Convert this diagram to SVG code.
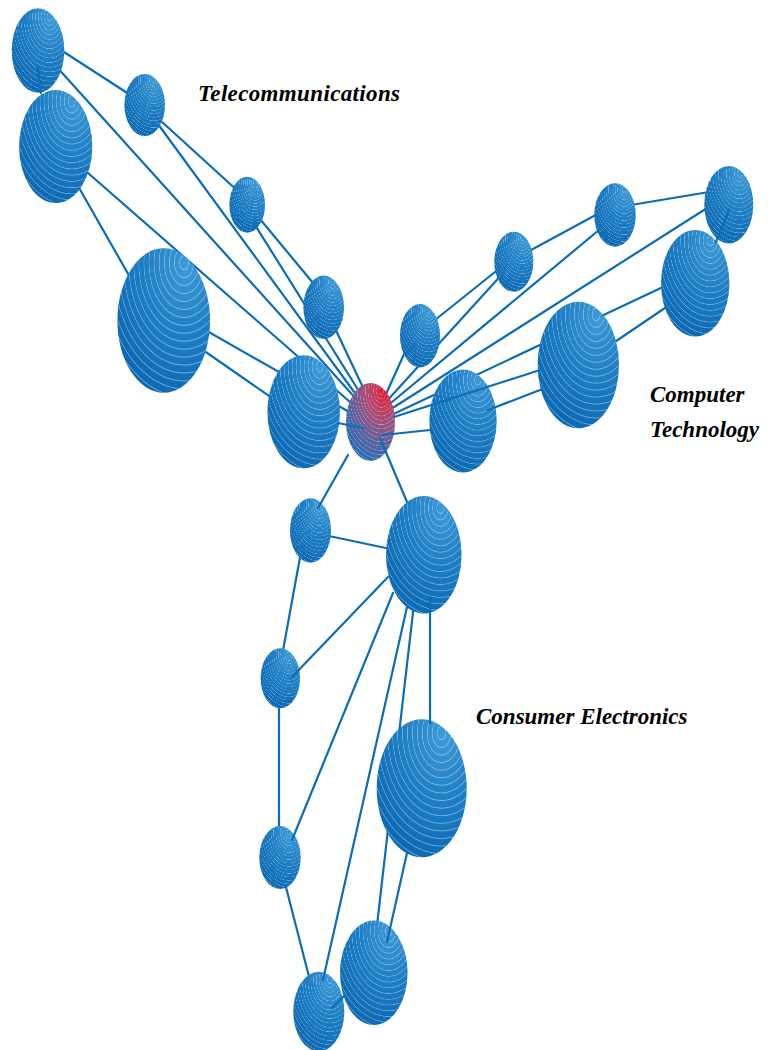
<svg xmlns="http://www.w3.org/2000/svg" width="773" height="1050" viewBox="0 0 773 1050">
<defs>
<radialGradient id="sph" cx="0.72" cy="0.18" r="0.95" fx="0.74" fy="0.12">
<stop offset="0" stop-color="#3f9bd6"/>
<stop offset="0.45" stop-color="#1f7fc5"/>
<stop offset="1" stop-color="#0865b0"/>
</radialGradient>
<radialGradient id="red" cx="0.8" cy="0.08" r="1.0" fx="0.8" fy="0.08">
<stop offset="0" stop-color="#e8162a"/>
<stop offset="0.16" stop-color="#cf3250"/>
<stop offset="0.42" stop-color="#a4507a"/>
<stop offset="0.7" stop-color="#5e629e"/>
<stop offset="1" stop-color="#2a6cb6"/>
</radialGradient>
<radialGradient id="rings" cx="0.72" cy="0.1" r="0.055" spreadMethod="repeat">
<stop offset="0" stop-color="#ffffff" stop-opacity="0"/>
<stop offset="0.75" stop-color="#ffffff" stop-opacity="0"/>
<stop offset="0.88" stop-color="#ffffff" stop-opacity="0.4"/>
<stop offset="1" stop-color="#ffffff" stop-opacity="0"/>
</radialGradient>
</defs>
<style>
.e line{stroke:#0b6cb8;stroke-width:2.2;stroke-linecap:round}
.s{fill:url(#sph)}
.c{fill:url(#red)}
.r{fill:url(#rings)}
.t{font-family:"Liberation Serif","Times New Roman",serif;font-weight:bold;font-style:italic;font-size:23px;fill:#000}
</style>
<g id="connectors-back" class="e">
<line x1="50" y1="43" x2="135" y2="98"/>
<line x1="55" y1="65" x2="358" y2="401"/>
<line x1="150" y1="111" x2="240" y2="193"/>
<line x1="155" y1="120" x2="360" y2="400"/>
<line x1="70" y1="172" x2="135" y2="286"/>
<line x1="80" y1="166" x2="358" y2="409"/>
<line x1="255" y1="213" x2="318" y2="289"/>
<line x1="250" y1="217" x2="362" y2="396"/>
<line x1="200" y1="348" x2="285" y2="407"/>
<line x1="200" y1="327" x2="358" y2="417"/>
<line x1="333" y1="324" x2="367" y2="396"/>
<line x1="381" y1="405" x2="415" y2="330"/>
<line x1="425" y1="328" x2="505" y2="264"/>
<line x1="375" y1="414" x2="505" y2="271"/>
<line x1="520" y1="256" x2="605" y2="210"/>
<line x1="380" y1="412" x2="605" y2="225"/>
<line x1="625" y1="206" x2="715" y2="191"/>
<line x1="380" y1="416" x2="715" y2="203"/>
<line x1="385" y1="418" x2="680" y2="279"/>
<line x1="600" y1="352" x2="690" y2="291"/>
<line x1="310" y1="532" x2="400" y2="551"/>
<line x1="305" y1="530" x2="278" y2="678"/>
<line x1="279" y1="690" x2="279" y2="840"/>
<line x1="415" y1="595" x2="373" y2="960"/>
<line x1="279" y1="860" x2="315" y2="1000"/>
</g>
<g id="n1"><ellipse class="s" cx="38" cy="50.5" rx="26.3" ry="42.2"/><ellipse class="r" cx="38" cy="50.5" rx="26.3" ry="42.2"/></g>
<g id="n2"><ellipse class="s" cx="144.7" cy="105" rx="20.3" ry="31"/><ellipse class="r" cx="144.7" cy="105" rx="20.3" ry="31"/></g>
<g id="n3"><ellipse class="s" cx="55.7" cy="146.5" rx="36.6" ry="56.5"/><ellipse class="r" cx="55.7" cy="146.5" rx="36.6" ry="56.5"/></g>
<g id="n4"><ellipse class="s" cx="247.2" cy="204.7" rx="17.8" ry="28"/><ellipse class="r" cx="247.2" cy="204.7" rx="17.8" ry="28"/></g>
<g id="n5"><ellipse class="s" cx="163.7" cy="320.5" rx="46.3" ry="72.2"/><ellipse class="r" cx="163.7" cy="320.5" rx="46.3" ry="72.2"/></g>
<g id="n6"><ellipse class="s" cx="323.7" cy="307.3" rx="20.3" ry="31.7"/><ellipse class="r" cx="323.7" cy="307.3" rx="20.3" ry="31.7"/></g>
<g id="n7"><ellipse class="s" cx="303.7" cy="411.8" rx="36.3" ry="56.5"/><ellipse class="r" cx="303.7" cy="411.8" rx="36.3" ry="56.5"/></g>
<g id="n9"><ellipse class="s" cx="420" cy="335.7" rx="20" ry="31.7"/><ellipse class="r" cx="420" cy="335.7" rx="20" ry="31.7"/></g>
<g id="n10"><ellipse class="s" cx="513.8" cy="261.7" rx="19.5" ry="30"/><ellipse class="r" cx="513.8" cy="261.7" rx="19.5" ry="30"/></g>
<g id="n11"><ellipse class="s" cx="615" cy="215" rx="20.7" ry="31.7"/><ellipse class="r" cx="615" cy="215" rx="20.7" ry="31.7"/></g>
<g id="n12"><ellipse class="s" cx="728.8" cy="204.7" rx="24.5" ry="38.7"/><ellipse class="r" cx="728.8" cy="204.7" rx="24.5" ry="38.7"/></g>
<g id="n13"><ellipse class="s" cx="695.2" cy="283.3" rx="34.2" ry="53.3"/><ellipse class="r" cx="695.2" cy="283.3" rx="34.2" ry="53.3"/></g>
<g id="n14"><ellipse class="s" cx="578.3" cy="365" rx="40.7" ry="63.3"/><ellipse class="r" cx="578.3" cy="365" rx="40.7" ry="63.3"/></g>
<g id="n15"><ellipse class="s" cx="463" cy="421" rx="33.7" ry="51.5"/><ellipse class="r" cx="463" cy="421" rx="33.7" ry="51.5"/></g>
<g id="n16"><ellipse class="s" cx="310.5" cy="530.5" rx="20.5" ry="32.2"/><ellipse class="r" cx="310.5" cy="530.5" rx="20.5" ry="32.2"/></g>
<g id="n17"><ellipse class="s" cx="423.8" cy="554.7" rx="37.8" ry="58.7"/><ellipse class="r" cx="423.8" cy="554.7" rx="37.8" ry="58.7"/></g>
<g id="n18"><ellipse class="s" cx="280.3" cy="678.3" rx="19.7" ry="30"/><ellipse class="r" cx="280.3" cy="678.3" rx="19.7" ry="30"/></g>
<g id="n19"><ellipse class="s" cx="421.7" cy="788.3" rx="45" ry="69"/><ellipse class="r" cx="421.7" cy="788.3" rx="45" ry="69"/></g>
<g id="n20"><ellipse class="s" cx="280" cy="857.5" rx="20.7" ry="31.5"/><ellipse class="r" cx="280" cy="857.5" rx="20.7" ry="31.5"/></g>
<g id="n21"><ellipse class="s" cx="373.8" cy="972.8" rx="33.8" ry="52.2"/><ellipse class="r" cx="373.8" cy="972.8" rx="33.8" ry="52.2"/></g>
<g id="n22"><ellipse class="s" cx="318.8" cy="1011.5" rx="25.5" ry="39.8"/><ellipse class="r" cx="318.8" cy="1011.5" rx="25.5" ry="39.8"/></g>
<g id="center"><ellipse class="c" cx="370.5" cy="422" rx="24.5" ry="39"/><ellipse class="r" cx="370.5" cy="422" rx="24.5" ry="39"/></g>
<g id="connectors-front" class="e">
<line x1="38" y1="68" x2="41" y2="93"/>
<line x1="338" y1="423" x2="363" y2="428"/>
<line x1="716" y1="242" x2="729" y2="210"/>
<line x1="394" y1="417" x2="540" y2="370"/>
<line x1="488" y1="410" x2="540" y2="390"/>
<line x1="383" y1="435" x2="430" y2="430"/>
<line x1="348" y1="455" x2="318" y2="508"/>
<line x1="380" y1="438" x2="407" y2="502"/>
<line x1="388" y1="577" x2="292" y2="677"/>
<line x1="393" y1="593" x2="292" y2="840"/>
<line x1="407" y1="607" x2="323" y2="980"/>
<line x1="430" y1="597" x2="430" y2="723"/>
<line x1="407" y1="853" x2="387" y2="942"/>
<line x1="332" y1="1008" x2="345" y2="995"/>
</g>
<g id="labels">
<text class="t" x="198" y="101" textLength="202" lengthAdjust="spacing">Telecommunications</text>
<text class="t" x="650" y="402">Computer</text>
<text class="t" x="650" y="437">Technology</text>
<text class="t" x="476" y="724">Consumer Electronics</text>
</g>
</svg>
